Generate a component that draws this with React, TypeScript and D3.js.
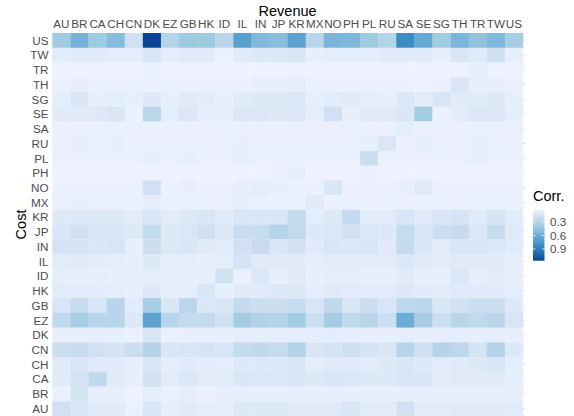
import React from "react";
import * as d3 from "d3";

const revenue = ["AU","BR","CA","CH","CN","DK","EZ","GB","HK","ID","IL","IN","JP","KR","MX","NO","PH","PL","RU","SA","SE","SG","TH","TR","TW","US"];
const cost = ["US","TW","TR","TH","SG","SE","SA","RU","PL","PH","NO","MX","KR","JP","IN","IL","ID","HK","GB","EZ","DK","CN","CH","CA","BR","AU"];

// each row: cost country, values by revenue country (AU..US)
const rowUS = [0.40,0.56,0.40,0.50,0.18,1.16,0.31,0.41,0.41,0.27,0.69,0.52,0.49,0.67,0.28,0.54,0.53,0.40,0.31,0.82,0.62,0.39,0.54,0.46,0.52,0.36];
const rowTW = [0.09,0.10,0.10,0.08,0.08,0.14,0.08,0.10,0.10,0.05,0.10,0.11,0.11,0.14,0.06,0.08,0.08,0.08,0.10,0.10,0.10,0.06,0.13,0.10,0.18,0.06];
const rowTR = [0.04,0.04,0.04,0.04,0.04,0.05,0.04,0.04,0.04,0.04,0.04,0.04,0.04,0.04,0.04,0.04,0.04,0.04,0.04,0.04,0.04,0.04,0.04,0.06,0.04,0.04];
const rowTH = [0.05,0.06,0.05,0.05,0.05,0.05,0.05,0.05,0.05,0.05,0.05,0.06,0.06,0.08,0.05,0.05,0.05,0.05,0.05,0.05,0.04,0.05,0.13,0.06,0.06,0.05];
const rowSG = [0.08,0.13,0.06,0.08,0.06,0.11,0.06,0.10,0.09,0.06,0.10,0.11,0.11,0.12,0.06,0.09,0.10,0.08,0.06,0.12,0.09,0.14,0.10,0.10,0.11,0.06];
const rowSE = [0.10,0.10,0.11,0.13,0.05,0.27,0.08,0.12,0.08,0.06,0.12,0.12,0.11,0.12,0.08,0.17,0.06,0.10,0.10,0.13,0.39,0.05,0.09,0.12,0.12,0.08];
const rowSA = [0.05,0.05,0.05,0.05,0.05,0.05,0.05,0.05,0.05,0.05,0.05,0.05,0.05,0.05,0.05,0.05,0.05,0.05,0.05,0.08,0.05,0.05,0.05,0.05,0.05,0.05];
const rowRU = [0.05,0.06,0.05,0.06,0.05,0.05,0.05,0.05,0.05,0.05,0.06,0.05,0.05,0.05,0.05,0.05,0.05,0.06,0.13,0.05,0.08,0.05,0.05,0.06,0.05,0.05];
const rowPL = [0.05,0.05,0.05,0.05,0.05,0.06,0.05,0.06,0.05,0.05,0.06,0.05,0.05,0.05,0.05,0.05,0.05,0.19,0.05,0.05,0.05,0.05,0.05,0.06,0.05,0.05];
const rowPH = [0.04,0.04,0.04,0.04,0.04,0.04,0.04,0.04,0.04,0.04,0.04,0.04,0.05,0.06,0.04,0.04,0.04,0.05,0.04,0.04,0.04,0.04,0.04,0.04,0.04,0.04];
const rowNO = [0.05,0.05,0.05,0.05,0.05,0.17,0.05,0.06,0.05,0.05,0.06,0.08,0.06,0.05,0.05,0.13,0.05,0.05,0.05,0.06,0.10,0.05,0.05,0.05,0.05,0.05];
const rowMX = [0.05,0.06,0.05,0.05,0.05,0.07,0.05,0.05,0.05,0.05,0.06,0.05,0.05,0.05,0.10,0.05,0.05,0.05,0.05,0.05,0.05,0.05,0.05,0.05,0.05,0.05];
const rowKR = [0.11,0.12,0.11,0.11,0.09,0.13,0.09,0.11,0.13,0.10,0.13,0.13,0.13,0.23,0.08,0.11,0.23,0.09,0.09,0.14,0.10,0.13,0.15,0.10,0.15,0.09];
const rowJP = [0.14,0.18,0.14,0.14,0.11,0.23,0.11,0.13,0.18,0.11,0.21,0.21,0.30,0.24,0.11,0.13,0.17,0.13,0.11,0.23,0.14,0.20,0.22,0.13,0.21,0.10];
const rowIN = [0.15,0.15,0.13,0.14,0.06,0.19,0.11,0.13,0.10,0.09,0.17,0.22,0.13,0.17,0.10,0.13,0.12,0.13,0.10,0.23,0.13,0.09,0.14,0.14,0.12,0.09];
const rowIL = [0.09,0.10,0.09,0.08,0.06,0.11,0.08,0.08,0.06,0.08,0.15,0.10,0.10,0.10,0.08,0.09,0.09,0.09,0.09,0.12,0.10,0.09,0.10,0.10,0.10,0.06];
const rowID = [0.08,0.06,0.07,0.06,0.06,0.08,0.08,0.06,0.06,0.17,0.05,0.12,0.06,0.10,0.06,0.08,0.08,0.06,0.06,0.10,0.06,0.06,0.12,0.06,0.09,0.06];
const rowHK = [0.09,0.09,0.09,0.08,0.07,0.11,0.08,0.08,0.13,0.06,0.10,0.10,0.11,0.11,0.08,0.10,0.09,0.09,0.09,0.11,0.10,0.09,0.10,0.10,0.10,0.08];
const rowGB = [0.14,0.22,0.14,0.28,0.09,0.37,0.13,0.27,0.13,0.13,0.23,0.19,0.19,0.21,0.14,0.24,0.13,0.20,0.14,0.26,0.27,0.13,0.17,0.20,0.19,0.11];
const rowEZ = [0.24,0.37,0.29,0.28,0.11,0.67,0.28,0.23,0.23,0.18,0.39,0.32,0.30,0.39,0.19,0.39,0.24,0.28,0.19,0.60,0.37,0.19,0.28,0.24,0.27,0.14];
const rowDK = [0.06,0.06,0.06,0.06,0.05,0.14,0.05,0.06,0.06,0.06,0.07,0.06,0.06,0.06,0.08,0.08,0.06,0.06,0.06,0.07,0.07,0.06,0.08,0.06,0.06,0.06];
const rowCN = [0.19,0.21,0.17,0.15,0.20,0.30,0.13,0.14,0.15,0.14,0.23,0.24,0.22,0.31,0.13,0.15,0.18,0.15,0.13,0.29,0.18,0.30,0.26,0.15,0.30,0.11];
const rowCH = [0.10,0.13,0.10,0.10,0.06,0.13,0.08,0.10,0.09,0.08,0.11,0.11,0.11,0.13,0.08,0.10,0.10,0.09,0.11,0.13,0.11,0.09,0.10,0.11,0.14,0.08];
const rowCA = [0.10,0.15,0.24,0.10,0.06,0.17,0.09,0.12,0.09,0.09,0.13,0.12,0.12,0.13,0.11,0.14,0.12,0.11,0.11,0.14,0.13,0.09,0.10,0.10,0.10,0.08];
const rowBR = [0.05,0.15,0.06,0.06,0.04,0.08,0.05,0.08,0.05,0.06,0.07,0.06,0.06,0.06,0.06,0.06,0.06,0.06,0.06,0.07,0.06,0.06,0.06,0.06,0.06,0.06];
const rowAU = [0.17,0.13,0.10,0.10,0.05,0.14,0.07,0.10,0.08,0.08,0.11,0.11,0.11,0.10,0.10,0.10,0.13,0.09,0.09,0.17,0.09,0.09,0.10,0.10,0.10,0.09];

const rows = [rowUS,rowTW,rowTR,rowTH,rowSG,rowSE,rowSA,rowRU,rowPL,rowPH,rowNO,rowMX,rowKR,rowJP,rowIN,rowIL,rowID,rowHK,rowGB,rowEZ,rowDK,rowCN,rowCH,rowCA,rowBR,rowAU];

const legendTicks = [0.3, 0.6, 0.9];
const corrLimits = [0.03, 1.16];
const blues = ["#EFF3FF","#C6DBEF","#9ECAE1","#6BAED6","#4292C6","#2171B5","#084594"];

export default function App() {
  React.useEffect(() => {
    document.body.style.margin = "0";
  }, []);

  const W = 574, H = 416;
  const x = d3.scaleBand<string>().domain(revenue).range([52.3, 523]).padding(0);
  const y = d3.scaleBand<string>().domain(cost).range([33, 416]).padding(0);
  const stops = d3.range(blues.length).map(i => corrLimits[0] + (i / (blues.length - 1)) * (corrLimits[1] - corrLimits[0]));
  const color = d3.scaleLinear<string>().domain(stops).range(blues).interpolate(d3.interpolateLab).clamp(true);

  const cells: { r: string; c: string; v: number }[] = [];
  cost.forEach((r, i) => revenue.forEach((c, j) => cells.push({ r, c, v: rows[i][j] })));

  const barX = 533, barW = 11.5, barTop = 210, barBot = 260.7;
  const ly = d3.scaleLinear().domain(corrLimits).range([barTop, barBot]);
  const gradStops = d3.range(0, 1.0001, 0.05);

  const font = "'Liberation Sans', Arial, Helvetica, sans-serif";
  const tickSize = 11.7;

  return (
    <svg width={W} height={H} style={{ display: "block", position: "absolute", left: 0, top: 0 }} fontFamily={font}>
      <rect x={0} y={0} width={W} height={H} fill="#ffffff" />
      <defs>
        <linearGradient id="cbar" x1="0" y1="0" x2="0" y2="1">
          {gradStops.map((t, i) => (
            <stop key={i} offset={t} stopColor={color(corrLimits[0] + t * (corrLimits[1] - corrLimits[0]))} />
          ))}
        </linearGradient>
      </defs>
      {revenue.map(c => (
        <line key={"tx" + c} x1={x(c)! + x.bandwidth() / 2} x2={x(c)! + x.bandwidth() / 2} y1={30.3} y2={33} stroke="#dedede" strokeWidth={0.8} />
      ))}
      {cost.map(r => (
        <line key={"ty" + r} x1={523} x2={525.7} y1={y(r)! + y.bandwidth() / 2} y2={y(r)! + y.bandwidth() / 2} stroke="#dedede" strokeWidth={0.8} />
      ))}
      {cells.map(d => (
        <rect key={d.r + d.c} x={x(d.c)!} y={y(d.r)!} width={x.bandwidth() + 0.3} height={y.bandwidth() + 0.3} fill={color(d.v)} />
      ))}
      {revenue.map(c => (
        <text key={"lx" + c} x={x(c)! + x.bandwidth() / 2} y={28.4} textAnchor="middle" fontSize={tickSize} fill="#4D4D4D">{c}</text>
      ))}
      {cost.map(r => (
        <text key={"ly" + r} x={48.5} y={y(r)! + y.bandwidth() / 2 + 4.3} textAnchor="end" fontSize={tickSize} fill="#4D4D4D">{r}</text>
      ))}
      <text x={287.6} y={15.7} textAnchor="middle" fontSize={14.5} fill="#000">Revenue</text>
      <text transform={`translate(25.5, 224.5) rotate(-90)`} textAnchor="middle" fontSize={14.5} fill="#000">Cost</text>
      <text x={533} y={200.7} fontSize={14.5} fill="#000">Corr.</text>
      <rect x={barX} y={barTop} width={barW} height={barBot - barTop} fill="url(#cbar)" />
      {legendTicks.map(t => (
        <g key={"lt" + t}>
          <line x1={barX} x2={barX + 2.3} y1={ly(t)} y2={ly(t)} stroke="#ffffff" strokeWidth={0.8} />
          <line x1={barX + barW - 2.3} x2={barX + barW} y1={ly(t)} y2={ly(t)} stroke="#ffffff" strokeWidth={0.8} />
          <text x={550} y={ly(t) + 4.2} fontSize={tickSize} fill="#4D4D4D">{t.toFixed(1)}</text>
        </g>
      ))}
    </svg>
  );
}
